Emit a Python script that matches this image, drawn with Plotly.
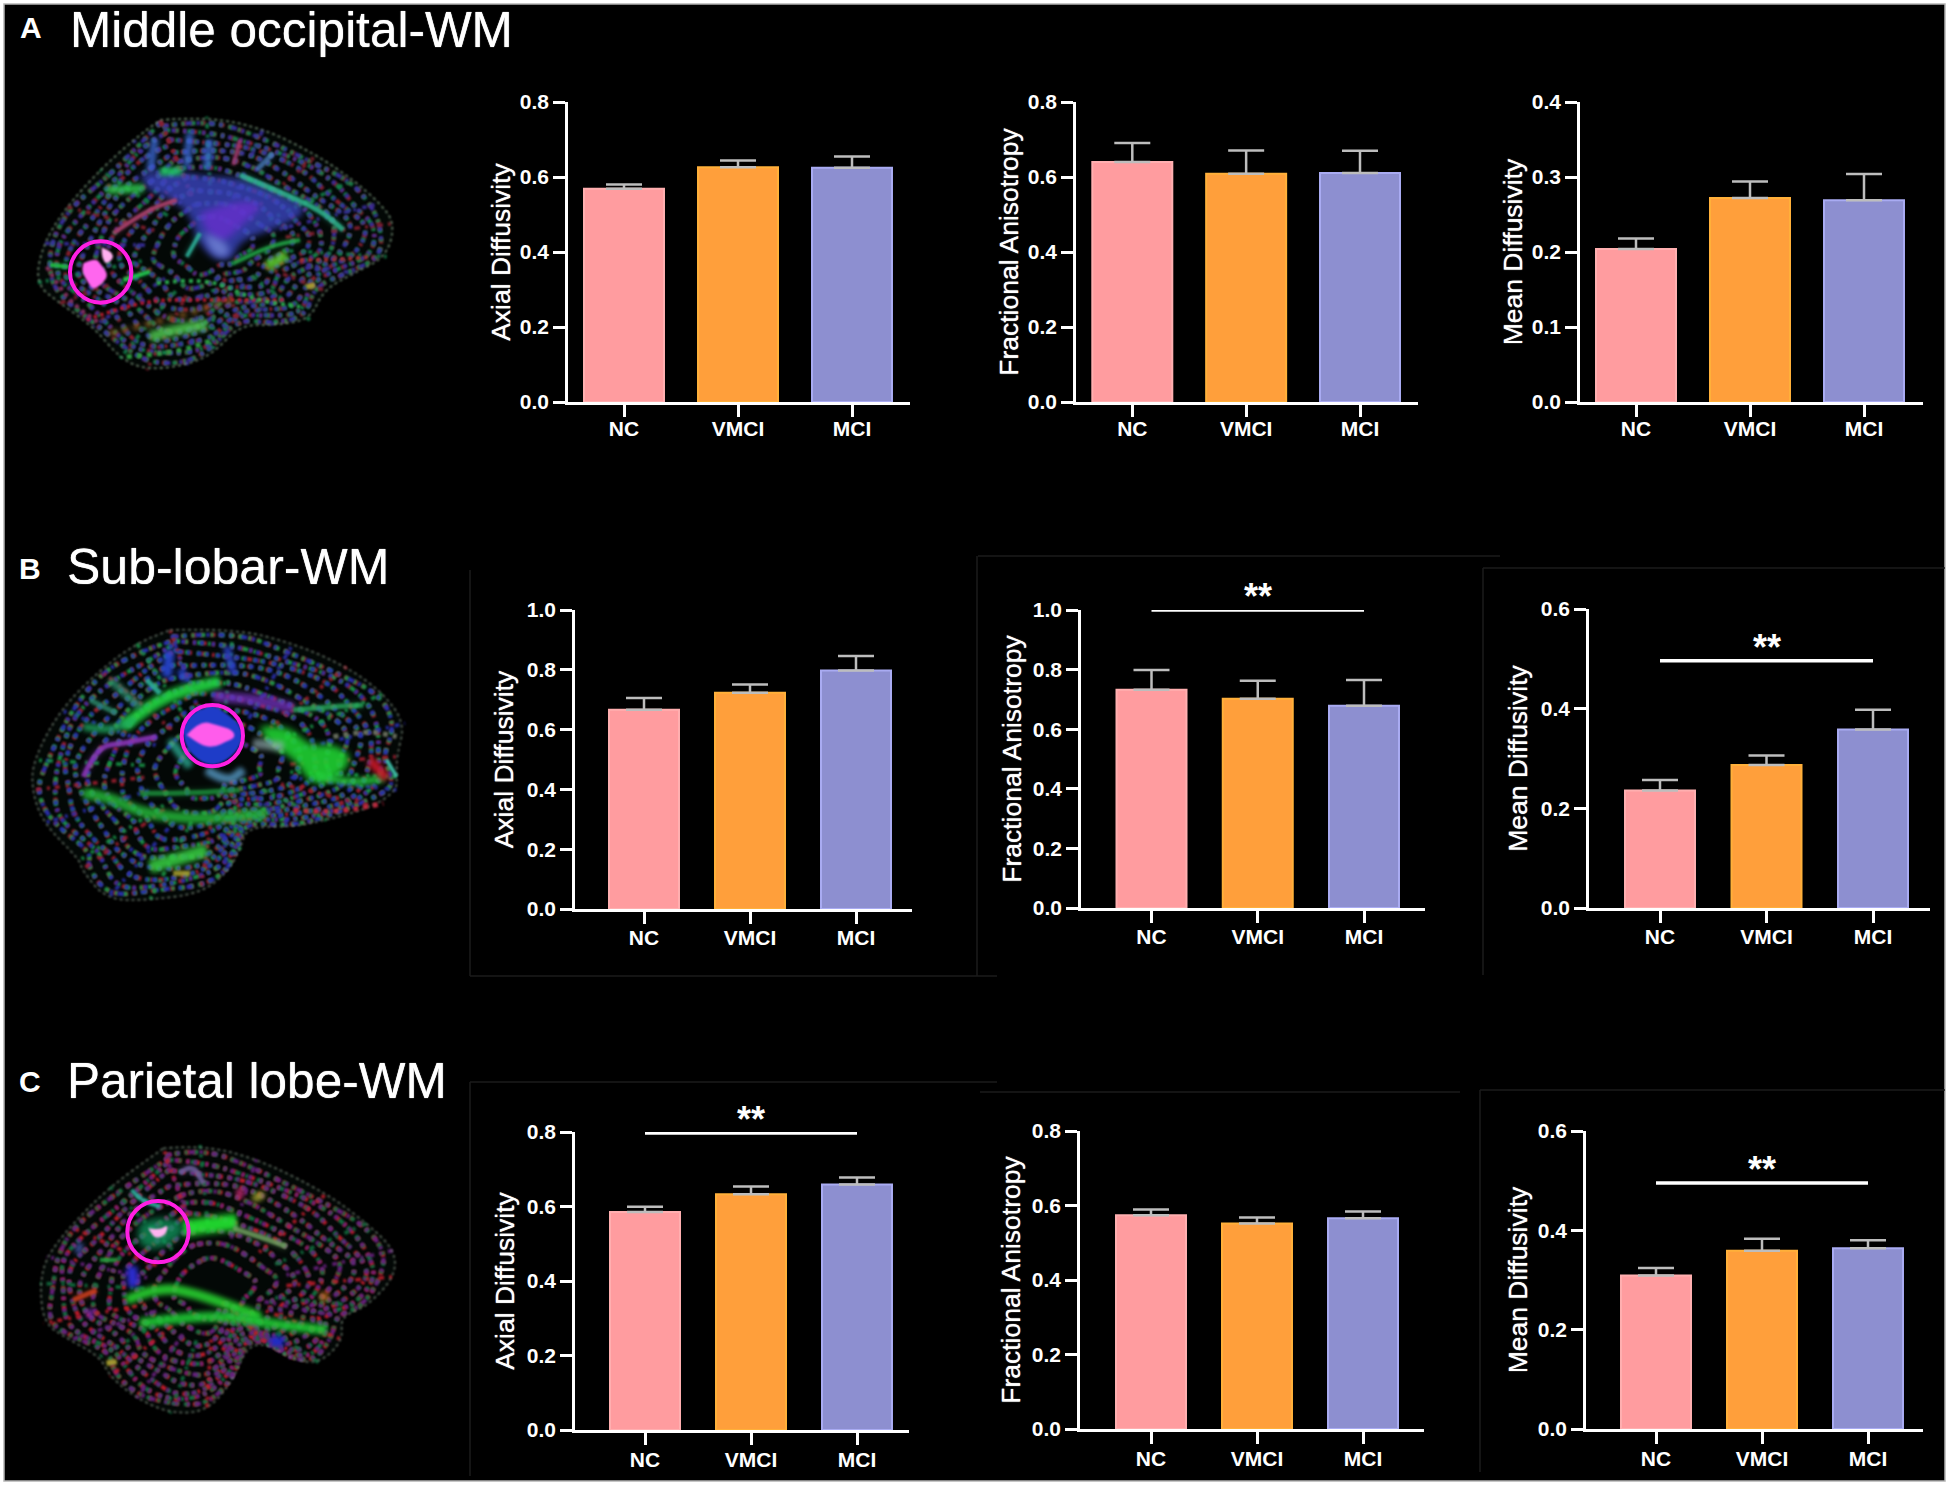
import math
import plotly.graph_objects as go

W, H = 1950, 1486

# ---------- data ----------
groups = ["NC", "VMCI", "MCI"]

ad_a = [0.569, 0.626, 0.625]
ad_a_err = [0.011, 0.018, 0.030]
fa_a = [0.640, 0.609, 0.611]
fa_a_err = [0.051, 0.062, 0.059]
md_a = [0.204, 0.272, 0.269]
md_a_err = [0.014, 0.022, 0.035]

ad_b = [0.666, 0.723, 0.798]
ad_b_err = [0.040, 0.028, 0.048]
fa_b = [0.732, 0.702, 0.679]
fa_b_err = [0.067, 0.061, 0.086]
md_b = [0.236, 0.287, 0.358]
md_b_err = [0.021, 0.019, 0.040]

ad_c = [0.585, 0.633, 0.659]
ad_c_err = [0.014, 0.021, 0.019]
fa_c = [0.574, 0.552, 0.566]
fa_c_err = [0.015, 0.016, 0.018]
md_c = [0.309, 0.359, 0.364]
md_c_err = [0.015, 0.024, 0.016]

row_titles = ["Middle occipital-WM", "Sub-lobar-WM", "Parietal lobe-WM"]
row_letters = ["A", "B", "C"]
measures = ["Axial Diffusivity", "Fractional Anisotropy", "Mean Diffusivity"]

bar_colors = ["#FF9C9F", "#FF9F3B", "#8D8FD0"]
bar_edges = ["#FFAFB0", "#FFB03A", "#A9ABF2"]

panels = [
    # values, errors, title, ymax, dtick, sig-level, axis x, centres, axis end, y top, y zero, bar px,
    # title standoff, x-label standoff
    (ad_a, ad_a_err, 0, 0.8, 0.2, None, 568, (624, 852), 910, 102, 402, 80, 2, -6),
    (fa_a, fa_a_err, 1, 0.8, 0.2, None, 1076, (1132.3, 1360), 1418, 102, 402, 80, 2, -6),
    (md_a, md_a_err, 2, 0.4, 0.1, None, 1580, (1636, 1864), 1923, 102, 402, 80, 2, -6),
    (ad_b, ad_b_err, 0, 1.0, 0.2, None, 575, (644, 856), 912, 610, 909, 70, 6, -4),
    (fa_b, fa_b_err, 1, 1.0, 0.2, 1.0, 1081, (1151.5, 1364), 1425, 610, 908, 70, 4, -4),
    (md_b, md_b_err, 2, 0.6, 0.2, 0.496, 1589, (1660, 1873), 1930, 609, 908, 70, 6, -4),
    (ad_c, ad_c_err, 0, 0.8, 0.2, 0.797, 575, (645, 857), 909, 1132, 1430, 70, 5, -3),
    (fa_c, fa_c_err, 1, 0.8, 0.2, None, 1080, (1151, 1363), 1424, 1131, 1429, 70, 4, -3),
    (md_c, md_c_err, 2, 0.6, 0.2, 0.4955, 1586, (1656, 1868), 1923, 1131, 1429, 70, 3, -3),
]

FONT = "Liberation Sans"
SOFT = "0 0 1px #ffffff"
fig = go.Figure()
annotations = []
layout = {}

for i, (vals, errs, m, ymax, dtick, sig, ax, (c0, c2), xend, ytop, yzero, bpx, stand, xstand) in enumerate(panels):
    n = "" if i == 0 else str(i + 1)
    xa, ya = "x" + n, "y" + n
    step = (c2 - c0) / 2
    fig.add_trace(go.Bar(
        x=groups, y=vals, xaxis=xa, yaxis=ya, width=bpx / step,
        marker=dict(color=bar_colors, line=dict(color=bar_edges, width=2)),
        error_y=dict(type="data", symmetric=False, array=errs, arrayminus=[0, 0, 0],
                     color="#BDBDBD", thickness=2.5, width=18),
        showlegend=False, hoverinfo="x+y"))
    layout["xaxis" + n] = dict(
        domain=[ax / W, xend / W], anchor=ya, type="category", categoryorder="array",
        categoryarray=groups, range=[(ax - c0) / step, (xend - c0) / step], automargin=False,
        showgrid=False, zeroline=False, showline=True, linecolor="white", linewidth=2.5,
        ticks="outside", ticklen=12, tickwidth=2.5, tickcolor="white", ticklabelstandoff=xstand,
        tickfont=dict(family=FONT, size=21, color="white", weight="bold"), fixedrange=True)
    layout["yaxis" + n] = dict(
        domain=[1 - yzero / H, 1 - ytop / H], anchor=xa, range=[0, ymax], tick0=0, dtick=dtick, automargin=False,
        tickformat=".1f", showgrid=False, zeroline=False, showline=True, linecolor="white",
        linewidth=2.5, ticks="outside", ticklen=12, tickwidth=2.5, tickcolor="white",
        tickfont=dict(family=FONT, size=21, color="white", weight="bold"),
        title=dict(text=measures[m], font=dict(family=FONT, size=26.5, color="white", shadow=SOFT), standoff=stand),
        fixedrange=True)
    if sig is not None:
        fig.add_trace(go.Scatter(
            x=[groups[0], groups[2]], y=[sig, sig], xaxis=xa, yaxis=ya, mode="lines",
            line=dict(color="white", width=3.5), cliponaxis=False, showlegend=False, hoverinfo="skip"))
        annotations.append(dict(
            x=groups[1], y=sig, xref=xa, yref=ya, text="<b>**</b>", showarrow=False,
            yanchor="top", yshift=36, font=dict(family=FONT, size=36, color="white")))


def px(x, y):
    return f"{x / W:.5f},{1 - y / H:.5f}"


title_pos = [(70, 29), (67, 567), (67, 1080)]
letter_pos = [(20, 28), (19, 568), (19, 1081)]
title_sizes = [49.5, 50, 49.5]
for t, l, (tx, ty), (lx, ly), s in zip(row_titles, row_letters, title_pos, letter_pos, title_sizes):
    annotations.append(dict(x=tx / W, y=1 - ty / H, xref="paper", yref="paper", xanchor="left",
                            yanchor="middle", text=t, showarrow=False, xshift=-2,
                            font=dict(family=FONT, size=s, color="white", shadow=SOFT)))
    annotations.append(dict(x=lx / W, y=1 - ly / H, xref="paper", yref="paper", xanchor="left",
                            yanchor="middle", text=f"<b>{l}</b>", showarrow=False, xshift=-2,
                            font=dict(family=FONT, size=30, color="white")))

# ---------- frame, faint panel outlines ----------
shapes = [dict(type="rect", xref="paper", yref="paper", x0=4 / W, x1=1945 / W,
               y0=1 - 1481 / H, y1=1 - 4 / H, fillcolor="black",
               line=dict(color="#B4B4B4", width=1.5), layer="below")]
faint = [(470, 570, 470, 976), (470, 976, 997, 976), (977, 556, 977, 976), (978, 556, 1500, 556),
         (1483, 568, 1483, 975), (1483, 568, 1945, 568), (470, 1082, 470, 1476), (470, 1082, 997, 1082),
         (980, 1092, 1460, 1092), (1480, 1090, 1480, 1472), (1480, 1090, 1945, 1090)]
for a, b, c, d in faint:
    shapes.append(dict(type="line", xref="paper", yref="paper", x0=a / W, x1=c / W, y0=1 - b / H, y1=1 - d / H,
                       line=dict(color="#1B1B1B", width=1.5), layer="below"))
N_SHARP = len(shapes)


# ---------- the three brain scans, sketched as coloured vector strokes ----------
def smooth(pts, ox, oy, k=3.0, closed=False):
    P = [(ox + a / k, oy + b / k) for a, b in pts]
    if len(P) == 2:
        return f"M {px(*P[0]).replace(',', ' ')} L {px(*P[1]).replace(',', ' ')}"
    s = "M " + px(*P[0]).replace(",", " ")
    for j in range(1, len(P) - 1):
        mid = ((P[j][0] + P[j + 1][0]) / 2, (P[j][1] + P[j + 1][1]) / 2)
        s += " Q " + px(*P[j]).replace(",", " ") + " " + px(*mid).replace(",", " ")
    s += " L " + px(*P[-1]).replace(",", " ")
    return s + (" Z" if closed else "")


def stroke(pts, ox, oy, color, w, op=1.0, dash="solid"):
    shapes.append(dict(type="path", xref="paper", yref="paper", path=smooth(pts, ox, oy),
                       line=dict(color=color, width=w, dash=dash), opacity=op, layer="below"))


def blob(pts, ox, oy, color, op=1.0):
    shapes.append(dict(type="path", xref="paper", yref="paper", path=smooth(pts, ox, oy, closed=True),
                       fillcolor=color, line=dict(width=0), opacity=op, layer="below"))


def glow(pts, ox, oy, color, w, op=0.9):
    stroke(pts, ox, oy, color, w * 1.6, op * 0.35)
    stroke(pts, ox, oy, color, w, op)


def speckle(sil, ox, oy, palette):
    """Dense broken rings and spokes that give the scan its grainy look."""
    cx = sum(p[0] for p in sil) / len(sil)
    cy = sum(p[1] for p in sil) / len(sil)
    patterns = ["5px,4px,3px,7px", "3px,6px,5px,5px", "6px,5px,3px,9px", "3px,4px,4px,8px"]
    for r, f in enumerate((0.95, 0.89, 0.83, 0.76, 0.69, 0.61, 0.53, 0.44, 0.34, 0.23)):
        pts = []
        for j, (a, b) in enumerate(sil):
            g = f * (1 + 0.035 * math.sin(j * 1.9 + r * 1.3))
            pts.append((cx + (a - cx) * g, cy + (b - cy) * g))
        for q, c in enumerate(palette):
            stroke(pts, ox, oy, c, 4.2, 0.95, patterns[(r + q) % 4])
    for j, (a, b) in enumerate(sil):
        mx = cx + (a - cx) * 0.4
        my = cy + (b - cy) * 0.4
        stroke([(mx, my), (a, b)], ox, oy, palette[j % len(palette)], 3.8, 0.85, patterns[j % 4])


def ring(cx, cy, r, ox, oy):
    shapes.append(dict(type="circle", xref="paper", yref="paper",
                       x0=(ox + (cx - r) / 3) / W, x1=(ox + (cx + r) / 3) / W,
                       y0=1 - (oy + (cy + r) / 3) / H, y1=1 - (oy + (cy - r) / 3) / H,
                       line=dict(color="#FF1FE3", width=4), layer="below"))


TEAL, YEL = "#2FB8A0", "#A8A030"
SPECK = "dot"
PAL_A = ["#8A2030", "#14804A", "#3A2FA0"]
PAL_B = ["#A01F30", "#1A9448", "#2A2FB0"]
PAL_C = ["#C01C2C", "#127040", "#6A2080"]

# --- brain A ---
ox, oy = 0, 0
silA = [(480, 360), (620, 350), (790, 385), (950, 465), (1060, 540), (1140, 610), (1185, 670), (1160, 770),
        (1060, 820), (970, 870), (930, 960), (820, 975), (720, 975), (640, 1060), (560, 1095), (440, 1110),
        (360, 1075), (280, 980), (180, 910), (105, 850), (130, 730), (200, 620), (300, 510), (400, 420), (480, 360)]
blob(silA, ox, oy, "#030806")
speckle(silA, ox, oy, PAL_A)
stroke(silA, ox, oy, "#8FAF90", 1.6, 0.8, SPECK)
for s, c, w in [([(260, 960), (420, 900), (600, 900), (860, 900)], "#C5182E", 3.5),
                ([(330, 1000), (500, 960), (700, 900)], "#8A5A20", 6),
                ([(380, 1070), (520, 1060), (640, 1020)], "#2E9A40", 5),
                ([(470, 850), (620, 830), (760, 900), (900, 920)], "#2CAE50", 4),
                ([(900, 780), (1000, 780), (1120, 770)], "#A83030", 4),
                ([(140, 800), (200, 900), (300, 970)], "#8A3060", 4)]:
    stroke(s, ox, oy, c, w, 0.95, SPECK)
for x0, y0, x1, y1 in [(465, 415, 450, 515), (570, 400, 560, 500), (630, 420, 620, 505)]:
    glow([(x0, y0), (x1, y1)], ox, oy, "#3C6AD8", 6, 0.8)
glow([(720, 420), (700, 495)], ox, oy, "#A03A70", 4, 0.8)
glow([(820, 460), (770, 510)], ox, oy, "#4A7FC0", 5, 0.7)
blob([(420, 520), (520, 510), (620, 530), (720, 530), (860, 590), (930, 630), (850, 680), (720, 720), (700, 780),
      (640, 780), (590, 720), (570, 640), (500, 590), (440, 570), (420, 520)], ox, oy, "#3A45C0", 0.8)
blob([(600, 640), (700, 600), (800, 610), (720, 680), (670, 730), (620, 700), (600, 640)], ox, oy, "#6A2FD0", 0.75)
blob([(610, 700), (680, 720), (690, 770), (640, 770), (610, 700)], ox, oy, "#7C90E0", 0.7)
glow([(320, 570), (430, 565)], ox, oy, "#30C850", 7, 0.85)
glow([(480, 515), (545, 512)], ox, oy, "#20D060", 6, 0.9)
glow([(720, 525), (850, 580), (960, 630), (1030, 690)], ox, oy, "#2FB890", 5, 0.8)
glow([(340, 700), (440, 630), (530, 600)], ox, oy, "#A8406A", 4, 0.9)
glow([(800, 800), (860, 765)], ox, oy, "#60D030", 8, 0.85)
glow([(700, 790), (800, 740), (900, 720)], ox, oy, "#22A848", 4, 0.8)
glow([(450, 1010), (540, 985), (620, 975)], ox, oy, "#4FC850", 9, 0.8)
glow([(150, 795), (205, 800)], ox, oy, "#20C040", 4, 0.9)
glow([(370, 840), (450, 815)], ox, oy, "#20C850", 4, 0.9)
glow([(560, 770), (600, 700)], ox, oy, TEAL, 4, 0.8)
glow([(920, 860), (945, 855)], ox, oy, YEL, 5, 0.9)
blob([(250, 790), (285, 772), (305, 795), (325, 825), (308, 850), (280, 870), (265, 850), (245, 815), (250, 790)],
     ox, oy, "#FF66EE")
blob([(305, 742), (350, 760), (320, 797), (305, 770), (305, 742)], ox, oy, "#FFB0F0")
ring(302, 816, 92, ox, oy)

# --- brain B ---
ox, oy = 0, 530
silB = [(510, 300), (700, 295), (880, 340), (1040, 410), (1150, 490), (1215, 580), (1190, 680), (1190, 740), (1190, 780),
        (1120, 830), (980, 870), (880, 890), (740, 890), (720, 960), (680, 1030), (600, 1090), (450, 1110), (320, 1110),
        (245, 1020), (240, 990), (130, 880), (95, 780), (100, 690), (180, 540), (300, 420), (410, 340), (510, 300)]
blob(silB, ox, oy, "#030806")
speckle(silB, ox, oy, PAL_B)
stroke(silB, ox, oy, "#7F8F80", 1.6, 0.8, SPECK)
for s, c, w in [([(880, 840), (1000, 850), (1150, 820)], "#C02A40", 5),
                ([(1000, 620), (1100, 600), (1190, 620)], "#6A7060", 5)]:
    stroke(s, ox, oy, c, w, 0.95, SPECK)
glow([(370, 590), (430, 540), (520, 490), (660, 455)], ox, oy, "#20D040", 10, 0.9)
glow([(250, 590), (330, 605), (400, 570)], ox, oy, "#20A860", 6, 0.8)
glow([(330, 450), (420, 530)], ox, oy, "#2E8F70", 6, 0.8)
glow([(270, 510), (350, 550)], ox, oy, "#2E8F70", 5, 0.7)
glow([(510, 360), (500, 440)], ox, oy, "#2848D8", 8, 0.9)
glow([(540, 420), (560, 450)], ox, oy, "#2848D8", 6, 0.9)
glow([(680, 350), (700, 430)], ox, oy, "#2A40C8", 6, 0.9)
glow([(440, 450), (480, 490)], ox, oy, TEAL, 5, 0.8)
glow([(640, 500), (760, 505), (880, 535)], ox, oy, "#7030B8", 9, 0.75)
glow([(250, 740), (290, 650), (370, 640), (470, 620)], ox, oy, "#8A35B8", 5, 0.85)
blob([(780, 590), (860, 580), (930, 650), (1000, 640), (1060, 680), (1020, 740), (930, 770), (890, 690),
      (800, 640), (780, 590)], ox, oy, "#1FD032", 0.9)
glow([(950, 740), (1060, 760), (1150, 745)], ox, oy, "#25D040", 6, 0.8)
glow([(880, 540), (1000, 530), (1090, 525)], ox, oy, "#2AB060", 5, 0.7)
glow([(760, 640), (850, 650)], ox, oy, "#A0B8C0", 8, 0.55)
glow([(250, 790), (330, 800), (420, 850), (620, 870), (800, 850)], ox, oy, "#25B83A", 9, 0.8)
glow([(420, 790), (560, 790), (720, 780)], ox, oy, "#1E9A40", 5, 0.7)
glow([(450, 1010), (540, 985), (620, 960)], ox, oy, "#35C840", 11, 0.85)
glow([(570, 1030), (520, 1030)], ox, oy, YEL, 5, 0.8)
glow([(620, 720), (680, 760), (730, 720)], ox, oy, "#5FA8D8", 7, 0.7)
glow([(510, 630), (570, 710)], ox, oy, TEAL, 7, 0.7)
glow([(1110, 690), (1160, 745)], ox, oy, "#C81828", 8, 0.9)
glow([(1160, 690), (1190, 740)], ox, oy, "#40C8B0", 3, 0.9)
blob([(637, 525), (720, 570), (730, 640), (680, 695), (620, 710), (560, 660), (545, 600), (570, 550), (637, 525)],
     ox, oy, "#1E3CC8")
blob([(560, 615), (600, 572), (650, 585), (700, 600), (705, 625), (675, 635), (650, 650), (610, 650), (560, 615)],
     ox, oy, "#FF5CEB")
ring(637, 617, 92, ox, oy)

# --- brain C ---
ox, oy = 0, 1050
silC = [(490, 295), (600, 285), (770, 325), (980, 430), (1100, 520), (1185, 600), (1185, 680), (1100, 770),
        (1020, 800), (1030, 870), (960, 940), (880, 930), (800, 880), (740, 890), (700, 990), (620, 1085), (510, 1090),
        (410, 1045), (330, 980), (300, 920), (210, 870), (130, 820), (120, 700), (140, 620), (210, 530), (330, 410),
        (490, 295)]
blob(silC, ox, oy, "#030806")
speckle(silC, ox, oy, PAL_C)
stroke(silC, ox, oy, "#809080", 1.6, 0.8, SPECK)
glow([(550, 535), (620, 525), (710, 515)], ox, oy, "#22E030", 14, 0.9)
glow([(700, 535), (780, 560), (860, 590)], ox, oy, "#70A060", 5, 0.8)
glow([(395, 420), (420, 450), (480, 470)], ox, oy, "#30B0A0", 4, 0.85)
glow([(540, 370), (575, 340), (610, 400)], ox, oy, "#7060A0", 5, 0.8)
glow([(710, 430), (730, 430)], ox, oy, "#C02870", 8, 0.9)
glow([(770, 430), (780, 450)], ox, oy, "#A0A030", 10, 0.85)
glow([(240, 580), (235, 610)], ox, oy, "#4A60C0", 6, 0.7)
glow([(395, 650), (400, 710)], ox, oy, "#3030E0", 9, 0.9)
glow([(380, 750), (470, 710), (590, 730), (780, 800)], ox, oy, "#28D030", 8, 0.9)
glow([(420, 820), (560, 800), (700, 800), (800, 820), (980, 840)], ox, oy, "#1FC835", 8, 0.9)
glow([(300, 630), (350, 630)], ox, oy, "#25A040", 4, 0.8)
glow([(810, 872), (850, 875)], ox, oy, "#1A2AD0", 8, 0.95)
glow([(320, 940), (350, 935)], ox, oy, YEL, 5, 0.9)
glow([(260, 790), (280, 790)], ox, oy, "#8A30C0", 6, 0.9)
glow([(220, 750), (290, 720)], ox, oy, "#D04020", 5, 0.8)
glow([(960, 740), (985, 740)], ox, oy, "#C07020", 7, 0.8)
blob([(420, 520), (470, 500), (540, 510), (555, 550), (500, 590), (440, 600), (410, 570), (420, 520)],
     ox, oy, "#119A60", 0.75)
blob([(445, 535), (480, 540), (505, 522), (498, 555), (465, 567), (445, 535)], ox, oy, "#FFB4F0")
ring(474, 545, 92, ox, oy)

fig.update_layout(
    width=W, height=H, margin=dict(l=0, r=0, t=0, b=0, pad=0), autosize=False,
    paper_bgcolor="white", plot_bgcolor="rgba(0,0,0,0)", showlegend=False,
    shapes=shapes, annotations=annotations, font=dict(family=FONT, color="white"), **layout)

soften = ("document.body.style.margin='0';document.body.style.background='white';"
          "document.querySelectorAll('.layer-below .shapelayer path').forEach(function(p){"
          "var k=+p.getAttribute('data-index');if(k<%d){return;}"
          "var sw=parseFloat(p.style.strokeWidth)||0;var op=parseFloat(p.style.opacity);"
          "var isRing=(p.style.stroke||'').indexOf('255, 31, 227')>=0;"
          "var b=isRing?0.6:(sw>=6?2.4:((sw===0&&op<1)?3.5:1.1));"
          "p.style.filter='blur('+b+'px)';});" % N_SHARP)
fig.write_html("out.html", config={"displayModeBar": False}, post_script=soften)
